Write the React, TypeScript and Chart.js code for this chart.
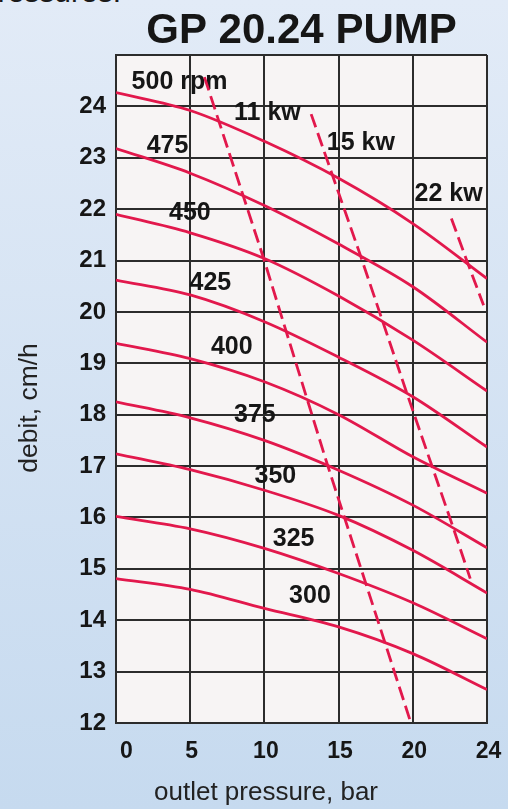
import React, { useEffect, useRef } from 'react';
import { Chart, registerables } from 'chart.js';
Chart.register(...registerables);

// ---- data ----
const pressure = [0, 5, 10, 15, 20, 25];
const xTickLabels = ['0', '5', '10', '15', '20', '24'];

const rpm500 = [24.27, 23.92, 23.32, 22.6, 21.72, 20.65];
const rpm475 = [23.18, 22.7, 22.07, 21.32, 20.49, 19.41];
const rpm450 = [21.9, 21.54, 21.04, 20.31, 19.45, 18.46];
const rpm425 = [20.62, 20.33, 19.81, 19.12, 18.35, 17.37];
const rpm400 = [19.39, 19.09, 18.64, 18.0, 17.18, 16.47];
const rpm375 = [18.25, 17.94, 17.5, 16.92, 16.24, 15.41];
const rpm350 = [17.24, 16.93, 16.53, 16.04, 15.36, 14.53];
const rpm325 = [16.02, 15.78, 15.4, 14.91, 14.34, 13.64];
const rpm300 = [14.81, 14.6, 14.23, 13.87, 13.35, 12.65];

const kw11X = [5.96, 9.95, 14.22, 19.83];
const kw11Y = [24.57, 21.04, 17.05, 12.04];
const kw15X = [13.15, 16.47, 19.61, 22.7, 23.87];
const kw15Y = [23.85, 21.1, 18.41, 15.82, 14.81];
const kw22X = [22.6, 23.66, 24.77];
const kw22Y = [21.82, 20.98, 20.13];

const labelTexts = ['500 rpm', '475', '450', '425', '400', '375', '350', '325', '300', '11 kw', '15 kw', '22 kw'];
const labelX = [4.28, 3.47, 4.98, 6.36, 7.8, 9.36, 10.74, 11.97, 13.07, 10.2, 16.5, 22.41];
const labelY = [24.47, 23.23, 21.93, 20.57, 19.31, 18.0, 16.8, 15.58, 14.47, 23.87, 23.29, 22.29];

const titleText = 'GP 20.24 PUMP';
const xTitle = 'outlet pressure, bar';
const yTitle = 'debit, cm/h';

// ---- styles ----
const RED = '#e2184c';
const GRID = '#2c2c2c';
const TEXT = '#161616';
const FONT = "'Liberation Sans', Arial, sans-serif";

const rpmSeries = [rpm500, rpm475, rpm450, rpm425, rpm400, rpm375, rpm350, rpm325, rpm300];

function rpmDataset(vals: number[]) {
  return {
    data: vals.map((v, i) => ({ x: pressure[i], y: v })),
    borderColor: RED,
    borderWidth: 2.8,
    pointRadius: 0,
    showLine: true,
    fill: false,
    cubicInterpolationMode: 'monotone' as const,
  };
}
function kwDataset(xs: number[], ys: number[]) {
  return {
    data: xs.map((x, i) => ({ x, y: ys[i] })),
    borderColor: RED,
    borderWidth: 2.8,
    borderDash: [14, 6],
    pointRadius: 0,
    showLine: true,
    fill: false,
    tension: 0,
  };
}

const decor = {
  id: 'decor',
  beforeDraw(chart: any) {
    const { ctx, chartArea: a } = chart;
    ctx.save();
    ctx.fillStyle = '#f7f4f4';
    ctx.fillRect(a.left, a.top, a.right - a.left, a.bottom - a.top);
    ctx.restore();
  },
  beforeDatasetsDraw(chart: any) {
    const { ctx } = chart;
    const xs = chart.scales.x;
    const ys = chart.scales.y;
    ctx.save();
    ctx.fillStyle = TEXT;
    ctx.font = `bold 25px ${FONT}`;
    ctx.textAlign = 'center';
    ctx.textBaseline = 'middle';
    labelTexts.forEach((t, i) => {
      ctx.fillText(t, xs.getPixelForValue(labelX[i]), ys.getPixelForValue(labelY[i]));
    });
    ctx.restore();
  },
  afterDraw(chart: any) {
    const { ctx, chartArea: a } = chart;
    const xs = chart.scales.x;
    ctx.save();
    ctx.fillStyle = TEXT;
    // title
    ctx.font = `bold 42px ${FONT}`;
    ctx.textAlign = 'center';
    ctx.textBaseline = 'alphabetic';
    ctx.fillText(titleText, (a.left + a.right) / 2, 43);
    // x tick labels
    ctx.font = `bold 23px ${FONT}`;
    pressure.forEach((p, i) => {
      const off = i === 0 ? 10.5 : 1.5;
      ctx.fillText(xTickLabels[i], xs.getPixelForValue(p) + off, a.bottom + 35);
    });
    // x title
    ctx.font = `26px ${FONT}`;
    ctx.fillStyle = '#222';
    ctx.fillText(xTitle, 266, 800);
    // y title
    ctx.font = `26.5px ${FONT}`;
    ctx.translate(37, 408);
    ctx.rotate(-Math.PI / 2);
    ctx.fillText(yTitle, 0, 0);
    ctx.restore();
  },
};

export default function App() {
  const ref = useRef<HTMLCanvasElement>(null);
  useEffect(() => {
    document.body.style.margin = '0';
    const canvas = ref.current!;
    const chart = new Chart(canvas, {
      type: 'scatter',
      data: {
        datasets: [
          ...rpmSeries.map(rpmDataset),
          kwDataset(kw11X, kw11Y),
          kwDataset(kw15X, kw15Y),
          kwDataset(kw22X, kw22Y),
        ] as any,
      },
      options: {
        responsive: false,
        devicePixelRatio: 1,
        animation: false,
        layout: { padding: { left: 0, right: 21, top: 55, bottom: 0 } },
        plugins: { legend: { display: false }, tooltip: { enabled: false }, title: { display: false } },
        scales: {
          x: {
            type: 'linear',
            min: 0,
            max: 25,
            ticks: { stepSize: 5, display: false },
            grid: { color: GRID, lineWidth: 2, drawTicks: false },
            border: { color: GRID, width: 2 },
            afterFit: (s: any) => { s.height = 86; },
          },
          y: {
            type: 'linear',
            min: 12,
            max: 25,
            ticks: {
              stepSize: 1,
              padding: 10,
              color: TEXT,
              font: { family: FONT, size: 24, weight: 'bold' },
              callback: (v: any) => (v > 24 ? '' : String(v)),
            },
            grid: { color: GRID, lineWidth: 2, drawTicks: false },
            border: { color: GRID, width: 2 },
            afterFit: (s: any) => { s.width = 116; },
          },
        },
      } as any,
      plugins: [decor],
    });
    return () => chart.destroy();
  }, []);
  return (
    <div
      style={{
        position: 'relative',
        width: 508,
        height: 809,
        overflow: 'hidden',
        background: 'linear-gradient(#e2ebf7, #c6daef)',
      }}
    >
      <div
        style={{
          position: 'absolute',
          left: -19,
          top: -23,
          fontFamily: FONT,
          fontSize: 30,
          lineHeight: '30px',
          color: '#1a1a1a',
          whiteSpace: 'nowrap',
        }}
      >
        pressures.
      </div>
      <canvas
        ref={ref}
        width={508}
        height={809}
        style={{ display: 'block', position: 'absolute', left: 0, top: 0 }}
      />
    </div>
  );
}
